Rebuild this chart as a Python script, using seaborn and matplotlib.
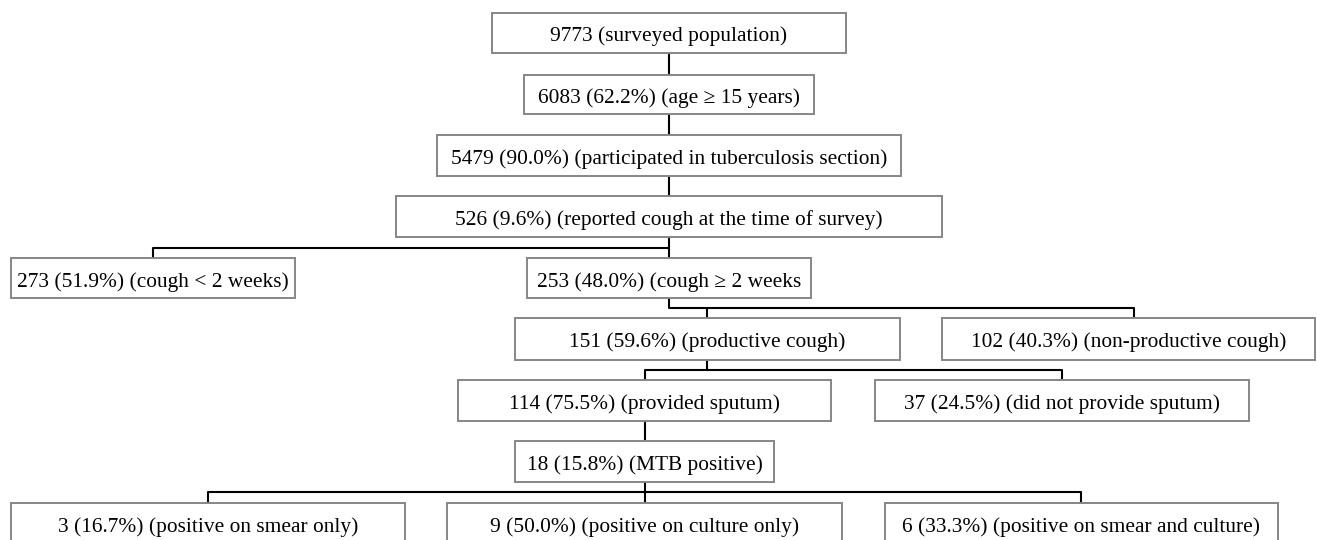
import matplotlib
matplotlib.use("Agg")
import matplotlib.pyplot as plt
from matplotlib.patches import Rectangle
import seaborn as sns

# flowchart data
counts = [9773, 6083, 5479, 526, 273, 253, 151, 102, 114, 37, 18, 3, 9, 6]
pcts = [None, "62.2%", "90.0%", "9.6%", "51.9%", "48.0%", "59.6%", "40.3%",
        "75.5%", "24.5%", "15.8%", "16.7%", "50.0%", "33.3%"]
descs = ["(surveyed population)", "(age \u2265 15 years)",
         "(participated in tuberculosis section)",
         "(reported cough at the time of survey)",
         "(cough < 2 weeks)", "(cough \u2265 2 weeks",
         "(productive cough)", "(non-productive cough)",
         "(provided sputum)", "(did not provide sputum)",
         "(MTB positive)", "(positive on smear only)",
         "(positive on culture only)", "(positive on smear and culture)"]

# box layout in pixels: left, right, top, bottom
boxes = [(492, 846, 13, 53), (524, 814, 75, 114), (437, 901, 135, 176),
         (396, 942, 196, 237), (11, 295, 258, 298), (527, 811, 258, 298),
         (515, 900, 318, 360), (942, 1315, 318, 360), (458, 831, 380, 421),
         (875, 1249, 380, 421), (515, 774, 441, 482), (11, 405, 503, 560),
         (447, 842, 503, 560), (885, 1278, 503, 560)]

# connector polylines (x list, y list)
connectors = [
    ([669, 669], [53, 75]),
    ([669, 669], [114, 135]),
    ([669, 669], [176, 196]),
    ([669, 669], [237, 258]),
    ([153, 153, 669], [258, 248, 248]),
    ([669, 669, 1134, 1134], [298, 308, 308, 318]),
    ([707, 707], [308, 318]),
    ([707, 707], [360, 370]),
    ([645, 645, 1062, 1062], [380, 370, 370, 380]),
    ([645, 645], [421, 441]),
    ([645, 645], [482, 503]),
    ([208, 208, 1081, 1081], [503, 492, 492, 503]),
]

sns.set_theme(style="white")
plt.rcParams["font.family"] = ["Liberation Serif", "DejaVu Serif"]

fig = plt.figure(figsize=(13.17, 5.4), dpi=100)
ax = fig.add_axes([0, 0, 1, 1])
ax.set_xlim(0, 1317)
ax.set_ylim(540, 0)
ax.axis("off")

for xs, ys in connectors:
    ax.plot(xs, ys, color="black", lw=1.5, solid_capstyle="butt")

for (l, r, t, b), n, p, d in zip(boxes, counts, pcts, descs):
    ax.add_patch(Rectangle((l, t), r - l, b - t, facecolor="white",
                           edgecolor="#868686", lw=1.4, zorder=3))
    label = f"{n} ({p}) {d}" if p else f"{n} {d}"
    cy = (t + b) / 2 if b <= 540 else t + 20.5
    ax.text((l + r) / 2, cy + 8.5, label, ha="center", va="baseline",
            fontsize=15.4, color="black", zorder=4)

fig.savefig("out.png", dpi=100)
